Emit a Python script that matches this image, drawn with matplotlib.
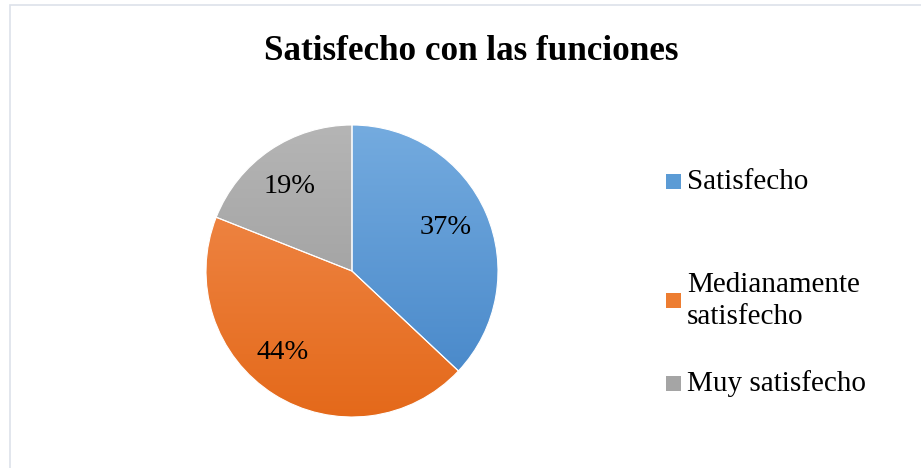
import matplotlib
matplotlib.use("Agg")
import matplotlib.pyplot as plt
import numpy as np
from matplotlib.colors import LinearSegmentedColormap
from matplotlib.patches import Rectangle

title = "Satisfecho con las funciones"
categories = ["Satisfecho", "Medianamente\nsatisfecho", "Muy satisfecho"]
values = [37, 44, 19]
colors_top = ["#74ABDF", "#F28E52", "#B5B5B5"]
colors_bot = ["#4384C7", "#E4691A", "#959595"]
colors_leg = ["#5B9BD5", "#ED7D31", "#A5A5A5"]

plt.rcParams['font.family'] = ['Liberation Serif', 'DejaVu Serif']

W, H = 921, 468
fig = plt.figure(figsize=(W / 100, H / 100), dpi=100)
fig.patch.set_facecolor("white")

# outer border
fig.add_artist(Rectangle((10 / W, -0.05), 1.2, 1 - 5 / H + 0.05, transform=fig.transFigure,
                         fill=False, edgecolor="#DDE2EA", linewidth=1.2))

cx, cy, r = 352, 271, 146
ax = fig.add_axes([(cx - r) / W, (H - cy - r) / H, 2 * r / W, 2 * r / H])
wedges, _ = ax.pie(values, startangle=90, counterclock=False, radius=1,
                   colors=colors_top, wedgeprops=dict(edgecolor="white", linewidth=0.8))
ax.set_xlim(-1, 1)
ax.set_ylim(-1, 1)
ax.set_aspect("equal")
ax.axis("off")

grad = np.linspace(0, 1, 256).reshape(-1, 1)
for w, ct, cb in zip(wedges, colors_top, colors_bot):
    cmap = LinearSegmentedColormap.from_list("g", [ct, cb])
    im = ax.imshow(grad, cmap=cmap, extent=[-1, 1, -1, 1], origin="upper",
                   aspect="auto", zorder=1.5, interpolation="bilinear")
    im.set_clip_path(w)
    w.set_zorder(2)
    w.set_facecolor("none")

# percentage labels (best-fit placement, in units of the pie radius)
label_pos = [(0.64, 0.295), (-0.475, -0.56), (-0.425, 0.58)]
for v, (x, y) in zip(values, label_pos):
    ax.text(x, y, f"{v}%", ha="center", va="center", fontsize=20.5, zorder=3)

fig.text(471 / W, 1 - 51 / H, title, ha="center", va="center",
         fontsize=25.3, fontweight="bold")

# legend
leg_y = [181, 300, 383]
for c, lab, y in zip(colors_leg, categories, leg_y):
    fig.add_artist(Rectangle((666 / W, 1 - (y + 7.5) / H), 15 / W, 15 / H,
                             transform=fig.transFigure, facecolor=c, edgecolor="none"))
    fig.text(687 / W, 1 - (y + 1) / H, lab, ha="left", va="center", fontsize=21,
             linespacing=1.3)

fig.savefig("out.png", dpi=100)
